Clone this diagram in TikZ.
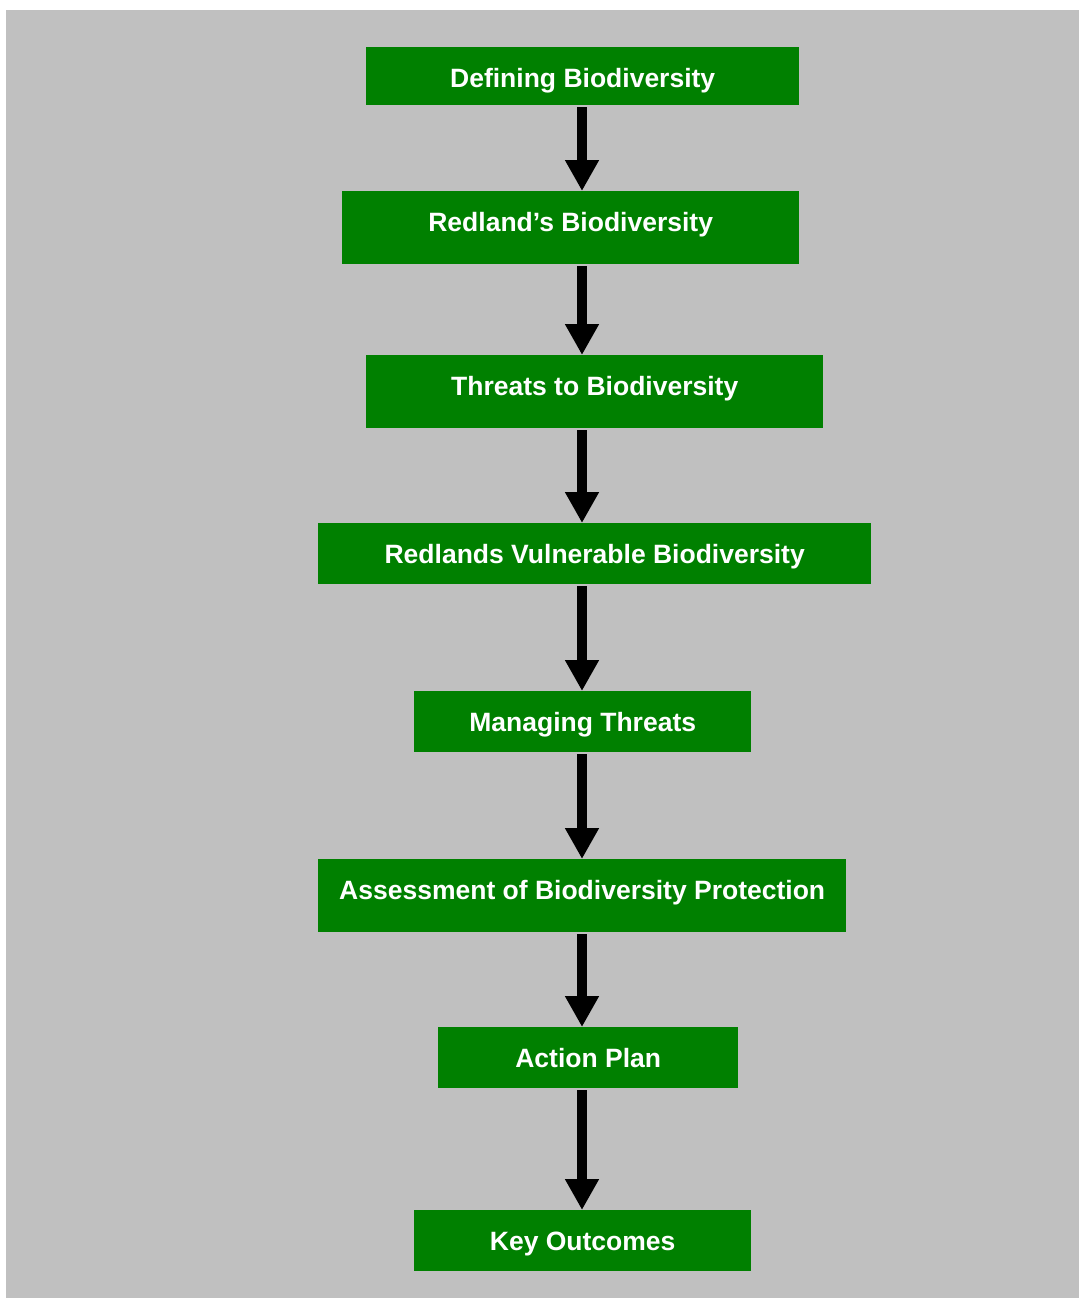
\documentclass[tikz,border=0pt]{standalone}
\usepackage{fontspec}
\setmainfont{Liberation Sans}
\usetikzlibrary{arrows.meta}
\definecolor{boxgreen}{RGB}{0,128,0}
\definecolor{bggray}{RGB}{192,192,192}
\begin{document}
\begin{tikzpicture}[x=1pt,y=-1pt,
  box/.style={fill=boxgreen, draw=none, inner sep=0pt, anchor=north west,
    text=white, font=\fontsize{26.5pt}{30pt}\selectfont\bfseries,
    text height=40.5pt},
  flow/.style={line width=10pt, draw=black,
    -{Triangle[width=32pt,length=31pt]}, shorten <=2pt}
]
\useasboundingbox (0,0) rectangle (1079,1298);
\fill[bggray] (6,10) rectangle (1079,1298);
\coordinate (ax) at (582,0);
\node[box, minimum width=433pt, text depth=17.5pt] (b1) at (366,47) {Defining Biodiversity};
\node[box, minimum width=457pt, text depth=32.5pt] (b2) at (342,191) {Redland’s Biodiversity};
\node[box, minimum width=457pt, text depth=32.5pt] (b3) at (366,355) {Threats to Biodiversity};
\node[box, minimum width=553pt, text depth=20.5pt] (b4) at (318,523) {Redlands Vulnerable Biodiversity};
\node[box, minimum width=337pt, text depth=20.5pt] (b5) at (414,691) {Managing Threats};
\node[box, minimum width=528pt, text depth=32.5pt] (b6) at (318,859) {Assessment of Biodiversity Protection};
\node[box, minimum width=300pt, text depth=20.5pt] (b7) at (438,1027) {Action Plan};
\node[box, minimum width=337pt, text depth=20.5pt] (b8) at (414,1210) {Key Outcomes};
\draw[flow] (b1.south -| ax) -- (b2.north -| ax);
\draw[flow] (b2.south -| ax) -- (b3.north -| ax);
\draw[flow] (b3.south -| ax) -- (b4.north -| ax);
\draw[flow] (b4.south -| ax) -- (b5.north -| ax);
\draw[flow] (b5.south -| ax) -- (b6.north -| ax);
\draw[flow] (b6.south -| ax) -- (b7.north -| ax);
\draw[flow] (b7.south -| ax) -- (b8.north -| ax);
\end{tikzpicture}
\end{document}
